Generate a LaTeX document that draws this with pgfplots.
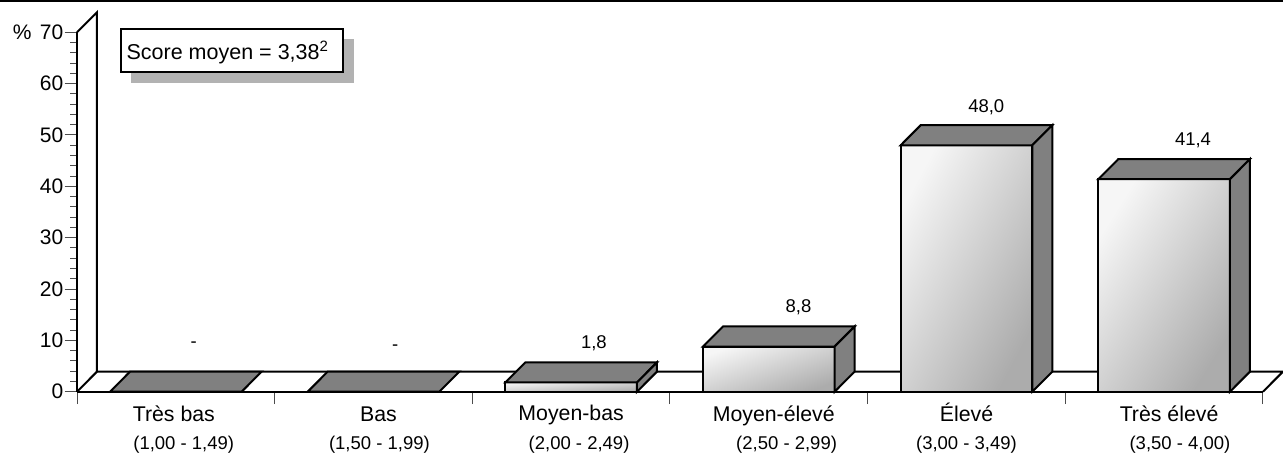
\documentclass[border=0pt]{standalone}
\usepackage{pgfplots}
\pgfplotsset{compat=1.18}
\usepackage{fontspec}
\setmainfont{Liberation Sans}
\definecolor{topgray}{HTML}{808080}
\definecolor{startgray}{HTML}{F6F6F6}
\definecolor{endgray}{HTML}{ACACAC}
\definecolor{shadowgray}{HTML}{B2B2B2}
\newcommand{\fbig}{\fontsize{21}{24}\selectfont}
\newcommand{\fcat}{\fontsize{21.3}{24}\selectfont}
\newcommand{\fsm}{\fontsize{18.5}{22}\selectfont}
\begin{document}
\begin{tikzpicture}[x=1pt,y=1pt]
\useasboundingbox (0,0) rectangle (1283,453);
\fill[black] (0,451) rectangle (1283,453);
\begin{axis}[
scale only axis,
at={(77pt,61.3pt)},
anchor=south west,
width=1186pt,
height=359.4pt,
xmin=0, xmax=6,
ymin=0, ymax=70,
clip=false,
axis lines=left,
axis line style={-, line width=2pt, black},
xtick={0,1,2,3,4,5,6},
xticklabels={},
ytick={0,10,20,30,40,50,60,70},
yticklabels={0,10,20,30,40,50,60,\%\hspace{2.5pt} 70},
minor y tick num=4,
tick align=outside,
major tick length=12.5pt,
minor tick length=7pt,
tick style={line width=1pt, black!70},
yticklabel style={font=\fbig, inner sep=0pt, xshift=-1pt},
]
% back wall and floor
\addplot[black, line width=2pt] coordinates {(0,70) (0.101,73.9) (0.101,3.9) (6.101,3.9) (6,0)};
\addplot[black, line width=2pt] coordinates {(0,0) (0.101,3.9)};

% score box
\addplot[draw=none, fill=shadowgray] coordinates {(0.273,68.7) (1.401,68.7) (1.401,60.1) (0.273,60.1)} --cycle;
\addplot[draw=black, line width=2pt, fill=white] coordinates {(0.223,70.6) (1.346,70.6) (1.346,62.3) (0.223,62.3)} --cycle;
\node[anchor=base west, inner sep=0pt, font=\fontsize{21.5}{24}\selectfont] at (axis cs:0.25,64.7) {Score moyen = 3,38\raisebox{8pt}{\fontsize{15}{15}\selectfont 2}};

% bar 1, 0.0
\addplot[draw=black, line width=2pt, fill=topgray] coordinates {(0.167,0) (0.833,0) (0.934,3.9) (0.268,3.9)} --cycle;
% bar 2, 0.0
\addplot[draw=black, line width=2pt, fill=topgray] coordinates {(1.167,0) (1.833,0) (1.934,3.9) (1.268,3.9)} --cycle;
% bar 3, 1.8
\addplot[draw=black, line width=2pt, left color=startgray, right color=endgray, shading angle=4] coordinates {(2.167,0) (2.833,0) (2.833,1.8) (2.167,1.8)} --cycle;
\addplot[draw=black, line width=2pt, fill=topgray] coordinates {(2.167,1.8) (2.833,1.8) (2.934,5.7) (2.268,5.7)} --cycle;
\addplot[draw=black, line width=2pt, fill=topgray] coordinates {(2.833,0) (2.934,3.9) (2.934,5.7) (2.833,1.8)} --cycle;
% bar 4, 8.8
\addplot[draw=black, line width=2pt, left color=startgray, right color=endgray, shading angle=19] coordinates {(3.167,0) (3.833,0) (3.833,8.8) (3.167,8.8)} --cycle;
\addplot[draw=black, line width=2pt, fill=topgray] coordinates {(3.167,8.8) (3.833,8.8) (3.934,12.7) (3.268,12.7)} --cycle;
\addplot[draw=black, line width=2pt, fill=topgray] coordinates {(3.833,0) (3.934,3.9) (3.934,12.7) (3.833,8.8)} --cycle;
% bar 5, 48.0
\addplot[draw=black, line width=2pt, left color=startgray, right color=endgray, shading angle=62] coordinates {(4.167,0) (4.833,0) (4.833,48.0) (4.167,48.0)} --cycle;
\addplot[draw=black, line width=2pt, fill=topgray] coordinates {(4.167,48.0) (4.833,48.0) (4.934,51.9) (4.268,51.9)} --cycle;
\addplot[draw=black, line width=2pt, fill=topgray] coordinates {(4.833,0) (4.934,3.9) (4.934,51.9) (4.833,48.0)} --cycle;
% bar 6, 41.4
\addplot[draw=black, line width=2pt, left color=startgray, right color=endgray, shading angle=58] coordinates {(5.167,0) (5.833,0) (5.833,41.4) (5.167,41.4)} --cycle;
\addplot[draw=black, line width=2pt, fill=topgray] coordinates {(5.167,41.4) (5.833,41.4) (5.934,45.3) (5.268,45.3)} --cycle;
\addplot[draw=black, line width=2pt, fill=topgray] coordinates {(5.833,0) (5.934,3.9) (5.934,45.3) (5.833,41.4)} --cycle;

% value labels
\node[font=\fsm] at (axis cs:0.59,9.1) {-};
\node[font=\fsm] at (axis cs:1.61,8.5) {-};
\node[font=\fsm, anchor=base] at (axis cs:2.615,8.45) {1,8};
\node[font=\fsm, anchor=base] at (axis cs:3.65,15.5) {8,8};
\node[font=\fsm, anchor=base] at (axis cs:4.60,54.3) {48,0};
\node[font=\fsm, anchor=base] at (axis cs:5.646,48.0) {41,4};

% category labels
\node[font=\fcat, anchor=base] at (axis cs:0.49,-5.9) {Très bas};
\node[font=\fcat, anchor=base] at (axis cs:1.525,-5.9) {Bas};
\node[font=\fcat, anchor=base] at (axis cs:2.50,-5.6) {Moyen-bas};
\node[font=\fcat, anchor=base] at (axis cs:3.525,-5.9) {Moyen-élevé};
\node[font=\fcat, anchor=base] at (axis cs:4.5,-5.9) {Élevé};
\node[font=\fcat, anchor=base] at (axis cs:5.525,-5.9) {Très élevé};
\node[font=\fsm, anchor=base] at (axis cs:0.54,-11.2) {(1,00 - 1,49)};
\node[font=\fsm, anchor=base] at (axis cs:1.53,-11.2) {(1,50 - 1,99)};
\node[font=\fsm, anchor=base] at (axis cs:2.54,-11.2) {(2,00 - 2,49)};
\node[font=\fsm, anchor=base] at (axis cs:3.59,-11.2) {(2,50 - 2,99)};
\node[font=\fsm, anchor=base] at (axis cs:4.5,-11.2) {(3,00 - 3,49)};
\node[font=\fsm, anchor=base] at (axis cs:5.58,-11.2) {(3,50 - 4,00)};
\end{axis}
\end{tikzpicture}
\end{document}
